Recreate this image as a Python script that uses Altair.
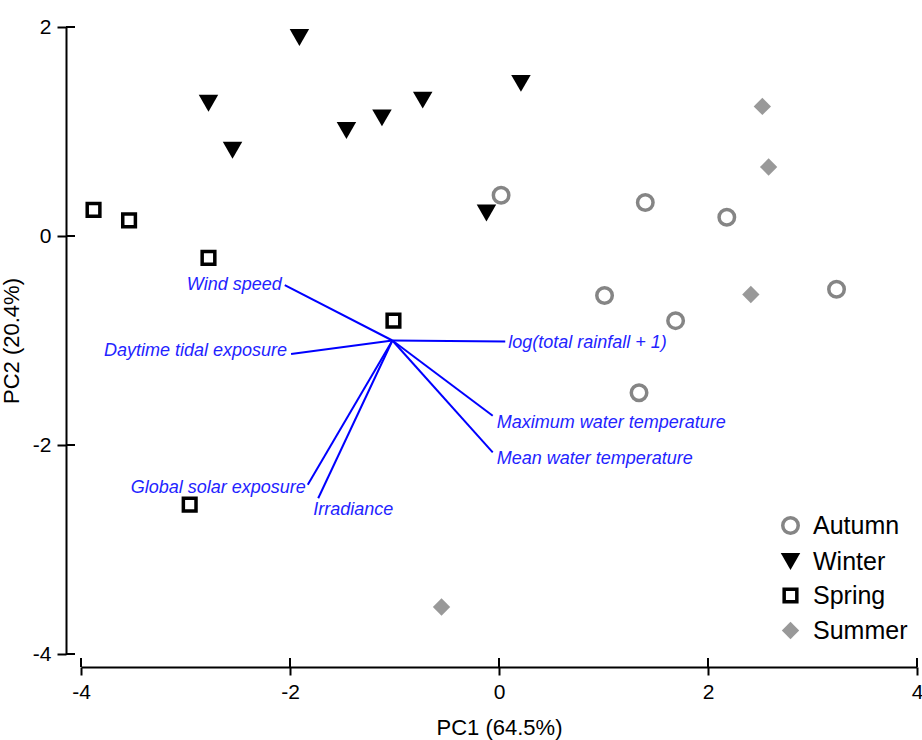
import altair as alt
import pandas as pd

# ---------------- data ----------------
seasons = ["Autumn", "Winter", "Spring", "Summer"]

autumn_x = [0.02, 1.40, 2.18, 3.23, 1.01, 1.69, 1.34]
autumn_y = [0.39, 0.32, 0.18, -0.51, -0.57, -0.81, -1.50]
winter_x = [-1.91, -2.78, -2.55, -1.46, -1.12, -0.73, 0.21, -0.12]
winter_y = [1.90, 1.27, 0.82, 1.01, 1.13, 1.30, 1.46, 0.22]
spring_x = [-3.88, -3.54, -2.78, -1.01, -2.96]
spring_y = [0.25, 0.15, -0.21, -0.81, -2.57]
summer_x = [2.52, 2.58, 2.41, -0.55]
summer_y = [1.24, 0.66, -0.56, -3.55]

vector_names = [
    "Wind speed",
    "Daytime tidal exposure",
    "Global solar exposure",
    "Irradiance",
    "log(total rainfall + 1)",
    "Maximum water temperature",
    "Mean water temperature",
]
vector_x = [-2.05, -1.99, -1.83, -1.73, 0.06, -0.06, -0.06]
vector_y = [-0.47, -1.13, -2.38, -2.51, -1.01, -1.72, -2.07]
origin_x = -1.02
origin_y = -1.00

x_ticks = [-4, -2, 0, 2, 4]
y_ticks = [-4, -2, 0, 2]

# ---------------- tables ----------------
rows = []
for s, xs, ys in [("Autumn", autumn_x, autumn_y), ("Winter", winter_x, winter_y),
                  ("Spring", spring_x, spring_y), ("Summer", summer_x, summer_y)]:
    for a, b in zip(xs, ys):
        rows.append({"Season": s, "PC1": a, "PC2": b})
points = pd.DataFrame(rows)

vectors = pd.DataFrame({
    "name": vector_names,
    "x": [origin_x] * len(vector_names),
    "y": [origin_y] * len(vector_names),
    "x2": vector_x,
    "y2": vector_y,
})

W, H = 836, 627
X_OFF, Y_OFF = 13, 15
FONT = "Liberation Sans"
BLUE = "#0000ff"
TEXT_BLUE = "#2323ff"

xscale = alt.Scale(domain=[-4, 4], nice=False, zero=False)
yscale = alt.Scale(domain=[-4, 2], nice=False, zero=False)

xaxis = alt.Axis(values=x_ticks, labelExpr="'' + datum.value", offset=X_OFF, grid=False,
                 tickSize=8, tickWidth=2,
                 domainWidth=2, domainColor="black", tickColor="black",
                 labelFont=FONT, labelFontSize=21, labelColor="black", labelPadding=6,
                 title="PC1 (64.5%)", titleFont=FONT, titleFontSize=22,
                 titleFontWeight="normal", titleColor="black", titlePadding=15,
                 labelFlush=False)
yaxis = alt.Axis(values=y_ticks, labelExpr="'' + datum.value", offset=Y_OFF, grid=False,
                 tickSize=9, tickWidth=2,
                 domainWidth=2, domainColor="black", tickColor="black",
                 labelFont=FONT, labelFontSize=21, labelColor="black", labelPadding=6,
                 title="PC2 (20.4%)", titleFont=FONT, titleFontSize=22,
                 titleFontWeight="normal", titleColor="black", titlePadding=9,
                 labelFlush=False)

# vectors
vec = alt.Chart(vectors).mark_rule(color=BLUE, strokeWidth=2).encode(
    x=alt.X("x:Q", scale=xscale, axis=xaxis),
    y=alt.Y("y:Q", scale=yscale, axis=yaxis),
    x2="x2:Q",
    y2="y2:Q",
)

# vector labels
label_style = {
    "Wind speed": ("right", -3, 0),
    "Daytime tidal exposure": ("right", -4, -3),
    "Global solar exposure": ("right", -2, 3),
    "Irradiance": ("left", -5, 12),
    "log(total rainfall + 1)": ("left", 3, 1),
    "Maximum water temperature": ("left", 4, 7),
    "Mean water temperature": ("left", 4, 7),
}
label_layers = []
for nm in vector_names:
    al, dx, dy = label_style[nm]
    label_layers.append(
        alt.Chart(vectors).transform_filter(alt.datum.name == nm).mark_text(
            align=al, baseline="middle", dx=dx, dy=dy, font=FONT, fontSize=18,
            fontStyle="italic", color=TEXT_BLUE
        ).encode(x=alt.X("x2:Q", scale=xscale), y=alt.Y("y2:Q", scale=yscale), text="name:N")
    )

# points
leg = alt.Legend(title=None, orient="none", legendX=697, legendY=486)
pts = alt.Chart(points).mark_point(opacity=1, strokeWidth=3.5).encode(
    x=alt.X("PC1:Q", scale=xscale),
    y=alt.Y("PC2:Q", scale=yscale),
    shape=alt.Shape("Season:N", scale=alt.Scale(domain=seasons,
                    range=["circle", "triangle-down", "square", "diamond"]), legend=leg),
    fill=alt.Fill("Season:N", scale=alt.Scale(domain=seasons,
                  range=["transparent", "black", "transparent", "#999999"]), legend=leg),
    stroke=alt.Stroke("Season:N", scale=alt.Scale(domain=seasons,
                      range=["#858585", "transparent", "black", "transparent"]), legend=leg),
    size=alt.Size("Season:N", scale=alt.Scale(type="ordinal", domain=seasons,
                  range=[240, 380, 160, 300]), legend=leg),
)

# inward halves of the crossing axis ticks
xstub = alt.Chart(pd.DataFrame({"t": x_ticks})).mark_rule(color="black", strokeWidth=2).encode(
    x=alt.X("t:Q", scale=xscale), y=alt.value(H + X_OFF - 9), y2=alt.value(H + X_OFF)
)
ystub = alt.Chart(pd.DataFrame({"t": y_ticks})).mark_rule(color="black", strokeWidth=2).encode(
    y=alt.Y("t:Q", scale=yscale), x=alt.value(-Y_OFF), x2=alt.value(-Y_OFF + 9)
)

chart = alt.layer(vec, *label_layers, xstub, ystub, pts).properties(
    width=W, height=H,
    background="white",
    autosize=alt.AutoSizeParams(type="none"),
    padding={"left": 81, "top": 27, "right": 5, "bottom": 86},
).configure_view(stroke=None).configure_legend(
    labelFont=FONT, labelFontSize=25, labelColor="black",
    rowPadding=5, symbolStrokeWidth=3.5, labelOffset=10,
)

chart.save("out.html", embed_options={"renderer": "svg", "actions": False})
